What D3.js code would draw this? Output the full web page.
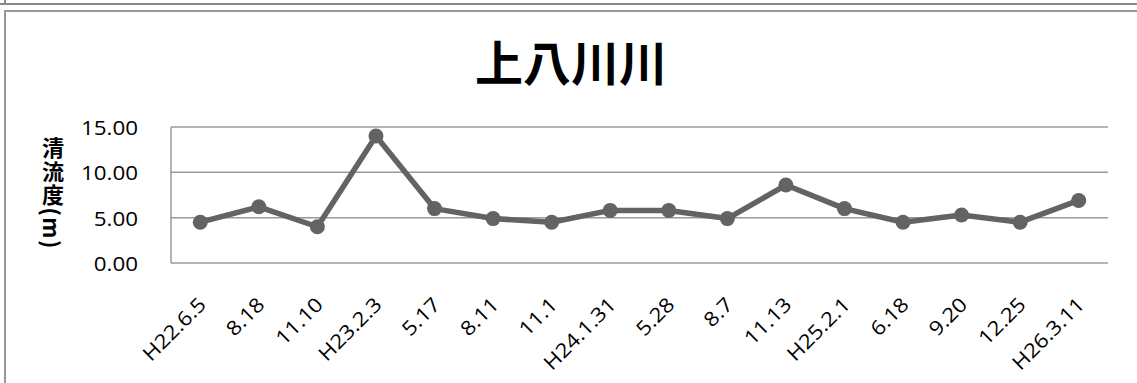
<!DOCTYPE html>
<html>
<head>
<meta charset="utf-8">
<script src="https://cdn.jsdelivr.net/npm/d3@7/dist/d3.min.js"></script>
<style>
  html, body { margin: 0; padding: 0; background: #fff; }
  svg { display: block; }
</style>
</head>
<body>
<svg id="chart" width="1137" height="383"></svg>
<script>
// Survey dates and measured clear-flow depth (m)
const dates = ["H22.6.5", "8.18", "11.10", "H23.2.3", "5.17", "8.11", "11.1", "H24.1.31",
               "5.28", "8.7", "11.13", "H25.2.1", "6.18", "9.20", "12.25", "H26.3.11"];
const depth = [4.5, 6.2, 4.0, 14.0, 6.0, 4.9, 4.5, 5.8, 5.8, 4.9, 8.6, 6.0, 4.5, 5.3, 4.5, 6.9];
const yTicks = [0, 5, 10, 15];
const chartTitle = "上八川川";
const yTitle = "清流度(m)";

const svg = d3.select("#chart");
const W = 1137, H = 383;
const plot = { left: 171, right: 1108, top: 127, bottom: 263 };
const labelFont = "'Open Sans', 'Noto Sans', sans-serif";
const stretch = 1.12; // wide-set label lettering

// Outer frames
svg.append("line").attr("x1", 0).attr("x2", W).attr("y1", 4).attr("y2", 4)
  .attr("stroke", "#8a8a8a").attr("stroke-width", 2);
svg.append("line").attr("x1", 5).attr("x2", 5).attr("y1", 0).attr("y2", 4)
  .attr("stroke", "#8a8a8a").attr("stroke-width", 2);
svg.append("rect").attr("x", 5).attr("y", 11).attr("width", W + 20).attr("height", H + 20)
  .attr("fill", "#fff").attr("stroke", "#999").attr("stroke-width", 2);

const x = d3.scaleBand().domain(dates).range([plot.left, plot.right]);
const y = d3.scaleLinear().domain([0, 15]).range([plot.bottom, plot.top]);
const cx = d => x(d) + x.bandwidth() / 2;

// Horizontal gridlines
svg.append("g").selectAll("line").data(yTicks).join("line")
  .attr("x1", plot.left).attr("x2", plot.right)
  .attr("y1", d => y(d)).attr("y2", d => y(d))
  .attr("stroke", "#9a9a9a").attr("stroke-width", 1.5);

// Left axis line
svg.append("line").attr("x1", plot.left).attr("x2", plot.left)
  .attr("y1", y(15)).attr("y2", y(0))
  .attr("stroke", "#9a9a9a").attr("stroke-width", 1.5);

// Y tick labels
svg.append("g").selectAll("text").data(yTicks).join("text")
  .attr("transform", d => `translate(138,${y(d) + 2.5}) scale(${stretch},1)`)
  .attr("text-anchor", "end").attr("dominant-baseline", "middle")
  .attr("font-family", labelFont)
  .attr("font-size", 20).attr("fill", "#000")
  .text(d => d.toFixed(2));

// X tick labels (rotated)
svg.append("g").selectAll("text").data(dates).join("text")
  .attr("transform", d => `translate(${cx(d) + 7},306) rotate(-45) scale(${stretch},1)`)
  .attr("text-anchor", "end")
  .attr("font-family", labelFont)
  .attr("font-size", 20).attr("fill", "#000")
  .text(d => d);

// Title
svg.append("text").attr("x", 571).attr("y", 81)
  .attr("text-anchor", "middle")
  .attr("font-family", "'Noto Sans CJK JP', sans-serif")
  .attr("font-weight", "bold").attr("font-size", 48).attr("fill", "#000")
  .text(chartTitle);

// Vertical Y-axis title (top-to-bottom writing)
svg.append("text")
  .attr("x", 53).attr("y", 137)
  .style("writing-mode", "vertical-rl")
  .style("letter-spacing", "1.5px")
  .attr("font-family", "'Noto Sans CJK JP', sans-serif")
  .attr("font-weight", "bold").attr("font-size", 22).attr("fill", "#000")
  .text(yTitle);

// Series line and markers
const line = d3.line().x((d, i) => cx(dates[i])).y(d => y(d));
svg.append("path").datum(depth)
  .attr("d", line).attr("fill", "none")
  .attr("stroke", "#636363").attr("stroke-width", 5.5).attr("stroke-linejoin", "round");
svg.append("g").selectAll("circle").data(depth).join("circle")
  .attr("cx", (d, i) => cx(dates[i]))
  .attr("cy", d => y(d)).attr("r", 7.5).attr("fill", "#636363");
</script>
</body>
</html>
